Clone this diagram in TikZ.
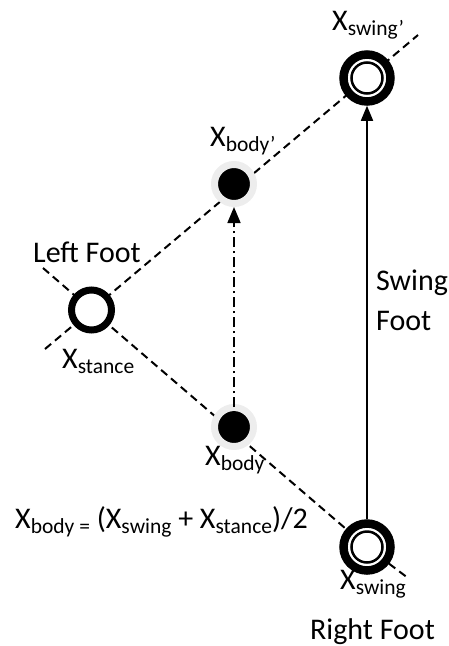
\documentclass[tikz,border=0pt]{standalone}
\usepackage{fontspec}
\setmainfont{Carlito}
\usetikzlibrary{arrows.meta,backgrounds}

\definecolor{halo}{HTML}{EDEDED}

% subscript set in a smaller size and lowered below the baseline
\newcommand\lowidx[1]{\raisebox{-5.5pt}{\fontsize{21.5}{22}\selectfont #1}}
\newcommand\Xsub[1]{X\lowidx{#1}}

\tikzset{
  guide/.style={line width=2pt, dash pattern=on 8pt off 5pt},
  stancefoot/.style={circle, draw=black, fill=white, line width=7pt,
    minimum size=40pt, inner sep=0pt},
  swingring/.style={circle, draw=black, fill=white, line width=8.5pt,
    minimum size=47pt, inner sep=0pt},
  swingcore/.style={circle, draw=black, fill=white, line width=2.5pt,
    minimum size=31pt, inner sep=0pt},
  bodydot/.style={circle, draw=halo, fill=black, line width=7pt,
    minimum size=39pt, inner sep=0pt},
  lbl/.style={inner sep=0pt, anchor=base west,
    font=\fontsize{30}{36}\selectfont},
  stepline/.style={line width=1.7pt, -{Triangle[length=15pt,width=12pt]}},
  shiftline/.style={line width=1.7pt, dash pattern=on 10pt off 4pt on 2pt off 4pt,
    -{Triangle[length=16pt,width=13pt]}}
}

\begin{document}
\begin{tikzpicture}[x=1pt, y=-1pt]
  \useasboundingbox (0,0) rectangle (449,646);

  % feet and body positions
  \node[stancefoot] (L) at (91.5,310) {};
  \node[swingring] (Sp) at (367,78) {};
  \node[swingcore] (Spc) at (Sp.center) {};
  \node[swingring] (S) at (367,547) {};
  \node[swingcore] (Sc) at (S.center) {};
  \node[bodydot] (Bp) at (234,184) {};
  \node[bodydot] (B) at (234,427) {};

  % free ends of the guide lines
  \coordinate (ua) at (45,349);
  \coordinate (ub) at (418,35);
  \coordinate (la) at (43,268);
  \coordinate (lb) at (408,578);

  \begin{pgfonlayer}{background}
    \draw[guide] (ua) -- (L.center) -- (Sp.center) -- (ub);
    \draw[guide] (la) -- (L.center) -- (S.center) -- (lb);
  \end{pgfonlayer}

  % swing step and body shift
  \draw[stepline] (S) -- (Sp);
  \draw[shiftline] (B.center) -- (Bp);

  % labels
  \node[lbl] (tSp) at (332,30) {\Xsub{swing’}};
  \node[lbl] (tBp) at (210,146) {\Xsub{body’}};
  \node[lbl] (tL) at (33,262) {Left Foot};
  \node[lbl] (tst) at (62,368) {\Xsub{stance}};
  \node[lbl] (tB) at (205,465) {\Xsub{body}};
  \node[lbl] (tsw1) at (376,290) {Swing};
  \node[lbl] (tsw2) at (376,330) {Foot};
  \node[lbl] (teq) at (15,528) {\Xsub{body =} (\Xsub{swing} + \Xsub{stance})/2};
  \node[lbl] (tS) at (340,589) {\Xsub{swing}};
  \node[lbl] (tR) at (310,639) {Right Foot};
\end{tikzpicture}
\end{document}
